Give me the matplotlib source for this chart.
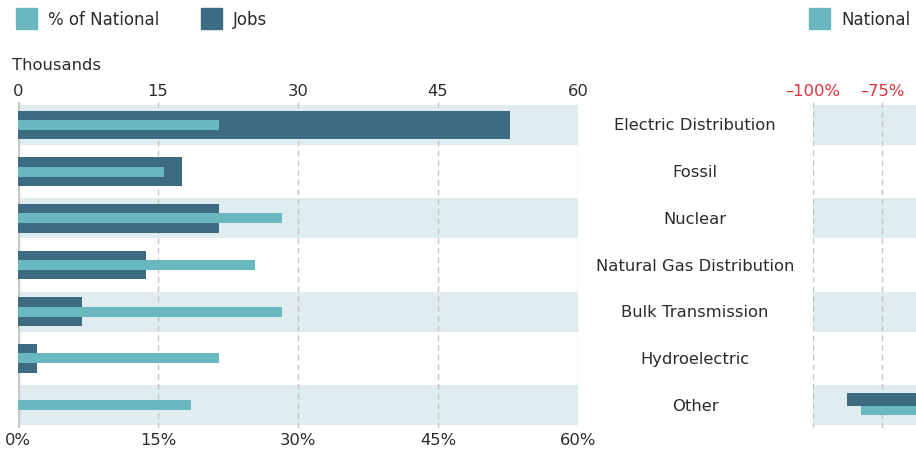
import matplotlib
matplotlib.use("Agg")
import matplotlib.pyplot as plt
from matplotlib.patches import Rectangle

# ___ Data ___ #
categories = ["Electric Distribution", "Fossil", "Nuclear", "Natural Gas Distribution",
              "Bulk Transmission", "Hydroelectric", "Other"]
jobs_thousands = [52.7, 17.6, 21.5, 13.7, 6.9, 2.0, 0.0]
pct_of_national = [21.5, 15.6, 28.3, 25.4, 28.3, 21.5, 18.5]
left_ticks = [0, 15, 30, 45, 60]
left_top_labels = ["0", "15", "30", "45", "60"]
left_bottom_labels = ["0%", "15%", "30%", "45%", "60%"]
national_ticks = [-100, -75]
national_labels = ["\u2013100%", "\u201375%"]
national_jobs = [0, 0, 0, 0, 0, 0, -87.7]
national_pct = [0, 0, 0, 0, 0, 0, -82.6]

LIGHT = "#69b8c0"
DARK = "#3c6b82"
BAND = "#dfedf0"
GRID = "#c4c4c4"
TEXT = "#2b2b2b"
RED = "#e0323c"

plt.rcParams['font.family'] = ['DejaVu Sans']

W, H = 916, 452
fig = plt.figure(figsize=(W / 100, H / 100), dpi=100)

def px_axes(x0, y0, x1, y1):
    return fig.add_axes([x0 / W, 1 - y1 / H, (x1 - x0) / W, (y1 - y0) / H])

n = len(categories)
ypos = list(range(n))
FS = 11.8

# --- left panel --- #
ax = px_axes(18, 102.7, 578, 429.3)
ax.set_xlim(0, 60)
ax.set_ylim(n - 0.5, -0.5)
for i in ypos:
    if i % 2 == 0:
        ax.add_patch(Rectangle((0, i - 0.43), 60, 0.86, color=BAND, lw=0, zorder=0))
for t in left_ticks[1:]:
    ax.axvline(t, color=GRID, lw=1, ls=(0, (4, 3)), zorder=1)
ax.axvline(0, color="#c8c8c8", lw=2.5, zorder=1)
ax.barh(ypos, jobs_thousands, height=0.62, color=DARK, zorder=2)
ax.barh(ypos, pct_of_national, height=0.21, color=LIGHT, zorder=3)
for s in ax.spines.values():
    s.set_visible(False)
ax.set_yticks([])
ax.set_xticks(left_ticks)
ax.set_xticklabels(left_bottom_labels, fontsize=FS, color=TEXT)
ax.tick_params(axis="x", length=0, pad=3)
ax2 = ax.secondary_xaxis("top")
ax2.set_xticks(left_ticks)
ax2.set_xticklabels(left_top_labels, fontsize=FS, color=TEXT)
ax2.tick_params(axis="x", length=0, pad=3)
for s in ax2.spines.values():
    s.set_visible(False)

# category labels
for i, c in enumerate(categories):
    fig.text(695 / W, 1 - (126 + i * 46.67) / H, c, ha="center", va="center",
             fontsize=FS, color=TEXT)

# --- right panel (National) --- #
axr = px_axes(813, 102.7, 916, 429.3)
axr.set_xlim(-100, -62.7)
axr.set_ylim(n - 0.5, -0.5)
for i in ypos:
    if i % 2 == 0:
        axr.add_patch(Rectangle((-100, i - 0.43), 40, 0.86, color=BAND, lw=0, zorder=0))
for t in national_ticks:
    axr.axvline(t, color=GRID, lw=1, ls=(0, (4, 3)), zorder=1)
yj = [y - 0.12 for y in ypos]
yp = [y + 0.12 for y in ypos]
axr.barh(yj, national_jobs, height=0.27, color=DARK, zorder=2)
axr.barh(yp, national_pct, height=0.21, color=LIGHT, zorder=2)
for s in axr.spines.values():
    s.set_visible(False)
axr.set_yticks([])
axr.xaxis.tick_top()
axr.set_xticks(national_ticks)
axr.set_xticklabels(national_labels, fontsize=FS, color=RED)
axr.tick_params(axis="x", length=0, pad=3)

# --- legend & titles --- #
def legend_item(x, color, label):
    fig.patches.append(Rectangle((x / W, 1 - 30 / H), 21 / W, 21 / H, color=color,
                                 transform=fig.transFigure, figure=fig))
    fig.text((x + 32) / W, 1 - 20 / H, label, ha="left", va="center",
             fontsize=12, color=TEXT)

legend_item(16, LIGHT, "% of National")
legend_item(201, DARK, "Jobs")
legend_item(809, LIGHT, "National")
fig.text(12 / W, 1 - 66 / H, "Thousands", ha="left", va="center", fontsize=FS, color=TEXT)

fig.savefig("out.png", dpi=100)
